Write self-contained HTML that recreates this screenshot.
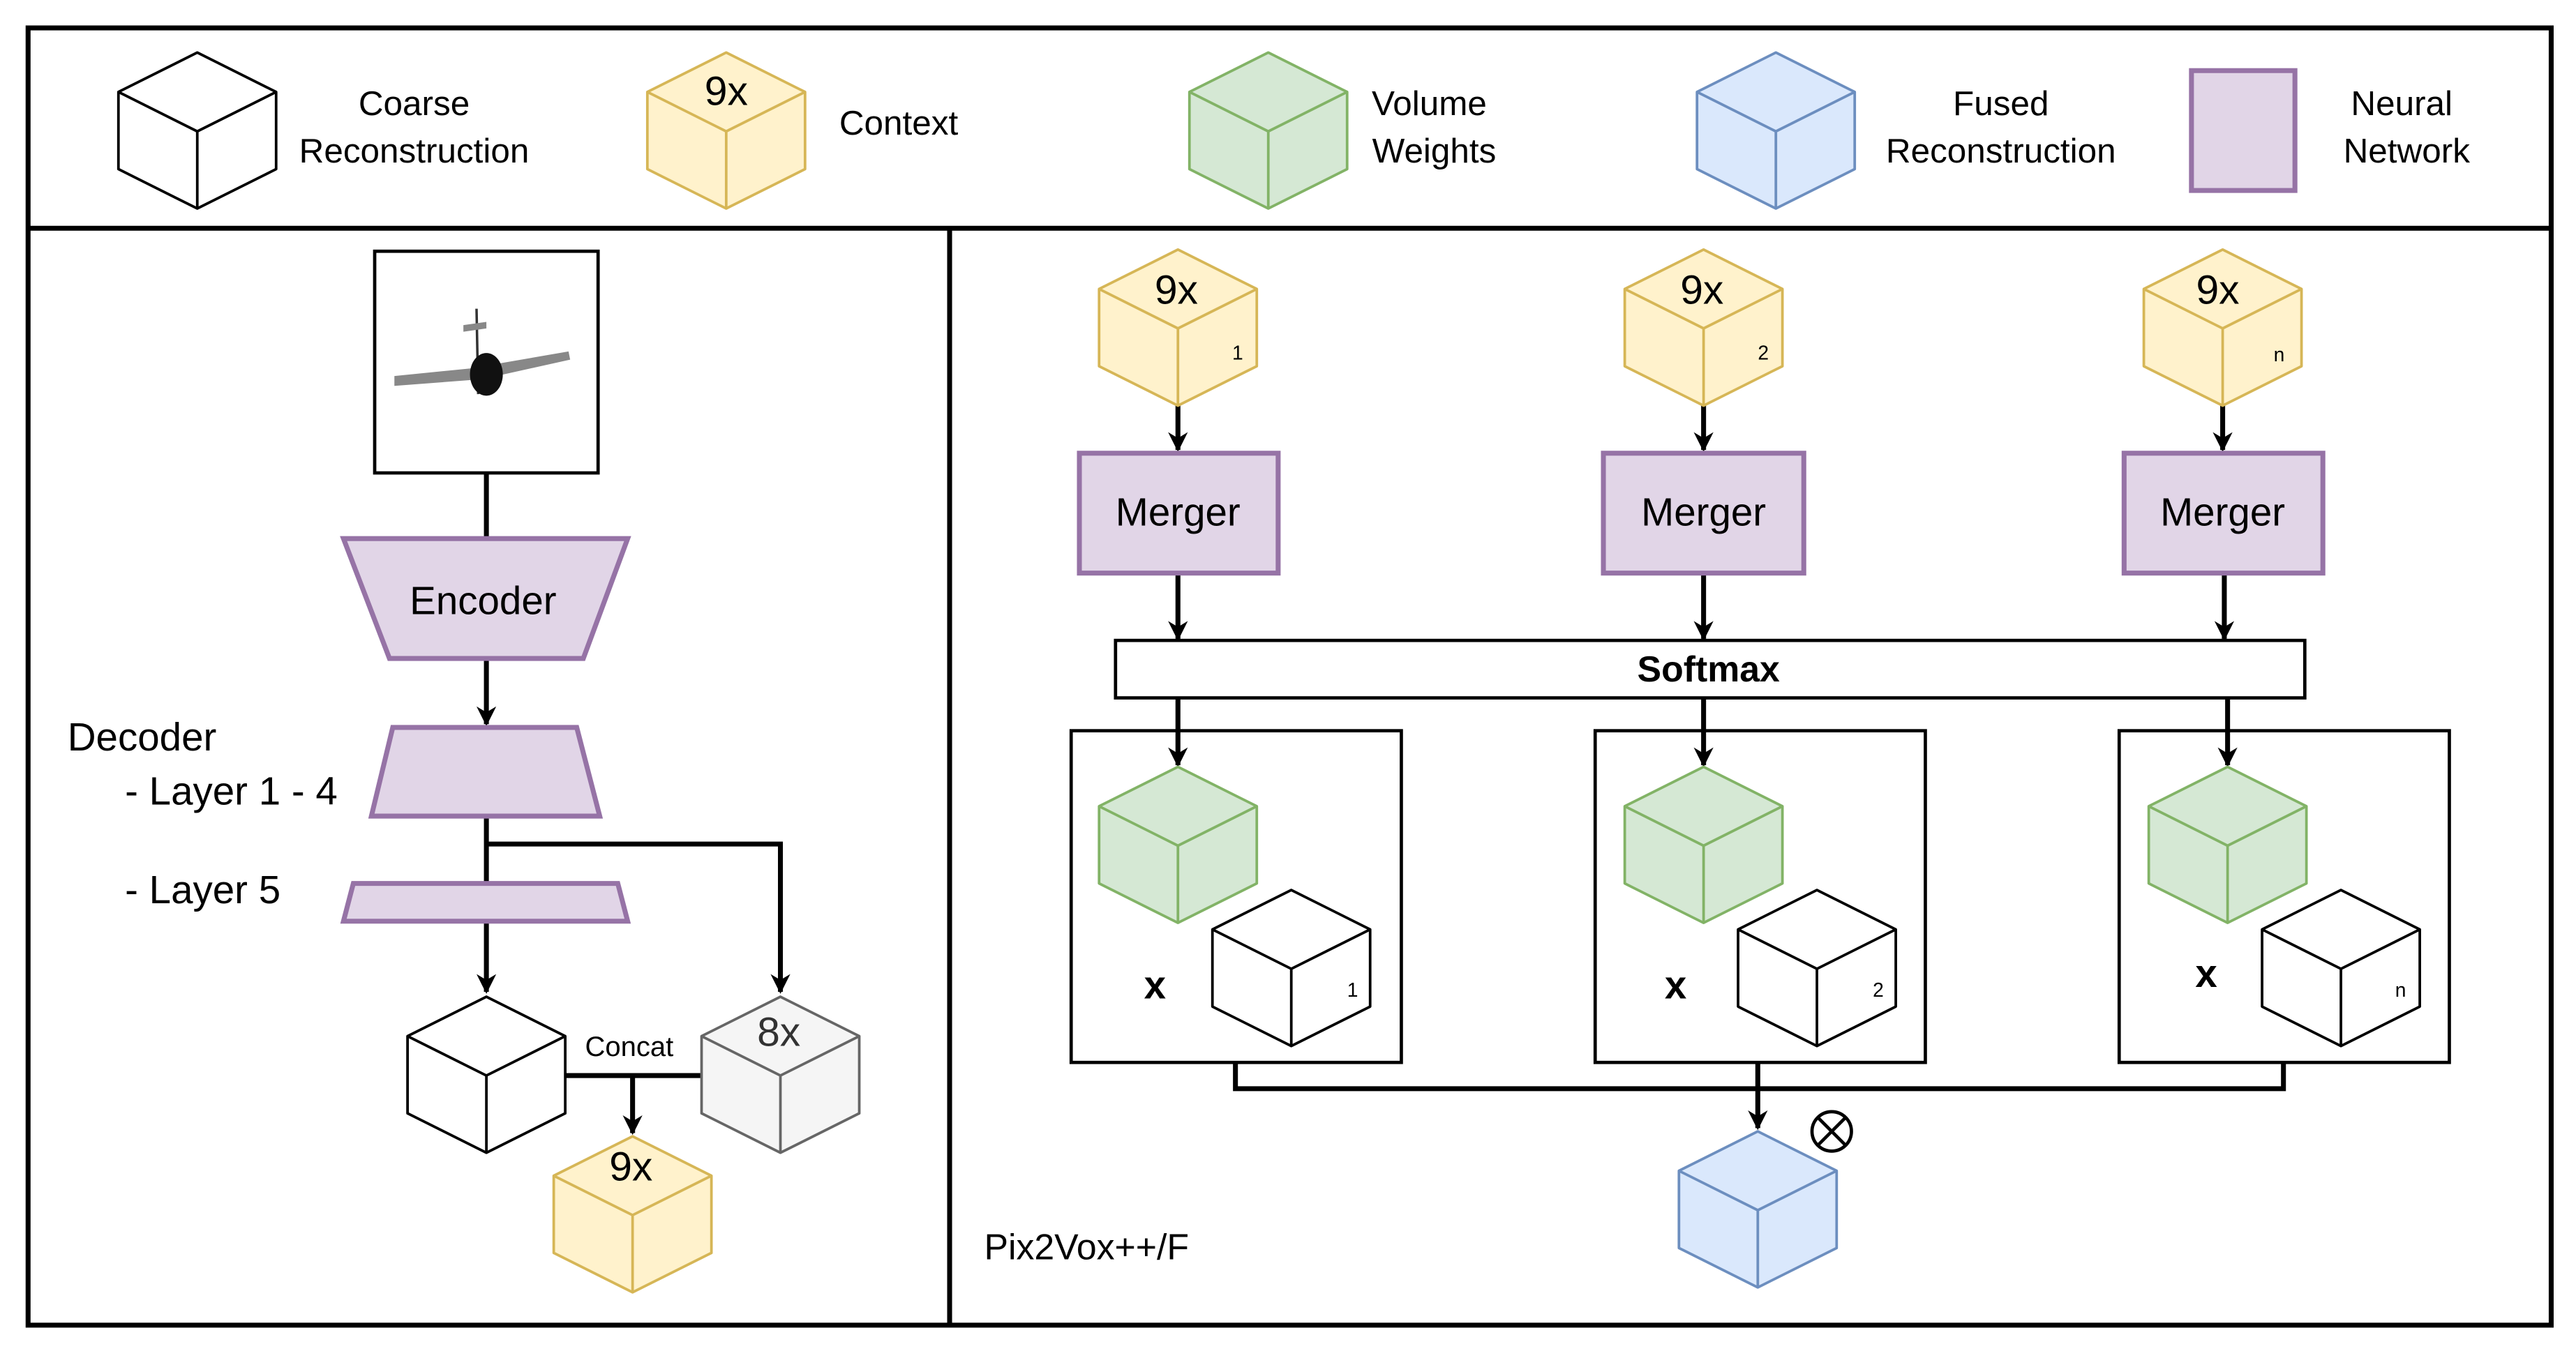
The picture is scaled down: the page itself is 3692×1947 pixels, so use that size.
<!DOCTYPE html>
<html><head><meta charset="utf-8"><style>html,body{margin:0;padding:0;background:#fff}svg{display:block}text{font-family:"Liberation Sans",Arial,sans-serif}</style></head>
<body>
<svg width="3692" height="1947" viewBox="0 0 1568 827" xmlns="http://www.w3.org/2000/svg">
<defs>
<marker id="a" viewBox="0 0 10 10" refX="9" refY="5" markerWidth="4" markerHeight="4" orient="auto" markerUnits="strokeWidth"><path d="M0,0 L10,5 L0,10 L3,5 z" fill="#000"/></marker>
<g id="cube"><path d="M0,0 L48,24 L48,71 L0,95 L-48,71 L-48,24 Z" stroke-linejoin="round"/><path d="M-48,24 L0,48 L48,24 M0,48 L0,95" fill="none"/></g>
</defs>
<rect width="1568" height="827" fill="#fff"/>
<rect x="17" y="17" width="1536" height="790" fill="none" stroke="#000" stroke-width="3"/>
<line x1="17" y1="139" x2="1553" y2="139" stroke="#000" stroke-width="3"/>
<line x1="578" y1="139" x2="578" y2="807" stroke="#000" stroke-width="3"/>

<use href="#cube" x="120" y="32" fill="#fff" stroke="#000" stroke-width="1.6"/>
<use href="#cube" x="442" y="32" fill="#fff2cc" stroke="#d6b656" stroke-width="1.6"/>
<use href="#cube" x="772" y="32" fill="#d5e8d4" stroke="#82b366" stroke-width="1.6"/>
<use href="#cube" x="1081" y="32" fill="#dae8fc" stroke="#6c8ebf" stroke-width="1.6"/>
<rect x="1334" y="43" width="63" height="73" fill="#e1d5e7" stroke="#9673a6" stroke-width="3"/>
<g font-size="21" text-anchor="middle">
<text x="252" y="70">Coarse</text><text x="252" y="99">Reconstruction</text>
<text x="442" y="64" font-size="25">9x</text>
<text x="547" y="82">Context</text>
<text x="870" y="70">Volume</text><text x="873" y="99">Weights</text>
<text x="1218" y="70">Fused</text><text x="1218" y="99">Reconstruction</text>
<text x="1462" y="70">Neural</text><text x="1465" y="99">Network</text>
</g>

<rect x="228" y="153" width="136" height="135" fill="#fff" stroke="#000" stroke-width="2"/>
<g>
<polygon points="240,229 290,224 292,231 240,235" fill="#888"/>
<polygon points="300,222 346,214 347,219 302,229" fill="#888"/>
<line x1="290" y1="188" x2="291" y2="240" stroke="#333" stroke-width="1.5"/>
<polygon points="282,198 296,196 296,200 282,202" fill="#888"/>
<ellipse cx="296" cy="228" rx="10" ry="13" fill="#111"/>
</g>
<g stroke="#000" stroke-width="3" fill="none">
<line x1="296" y1="288" x2="296" y2="328"/>
<line x1="296" y1="401" x2="296" y2="441" marker-end="url(#a)"/>
<line x1="296" y1="497" x2="296" y2="537"/>
<polyline points="296,514 475,514 475,604" marker-end="url(#a)"/>
<line x1="296" y1="561" x2="296" y2="604" marker-end="url(#a)"/>
<line x1="344" y1="655" x2="427" y2="655"/>
<line x1="385" y1="655" x2="385" y2="690" marker-end="url(#a)"/>
</g>
<polygon points="209,328 382,328 355,401 237,401" fill="#e1d5e7" stroke="#9673a6" stroke-width="3"/>
<text x="294" y="374" font-size="24" text-anchor="middle">Encoder</text>
<polygon points="239,443 351,443 365,497 226,497" fill="#e1d5e7" stroke="#9673a6" stroke-width="3"/>
<polygon points="215,538 376,538 382,561 209,561" fill="#e1d5e7" stroke="#9673a6" stroke-width="3"/>
<g font-size="24">
<text x="41" y="457">Decoder</text>
<text x="76" y="490">- Layer 1 - 4</text>
<text x="76" y="550">- Layer 5</text>
</g>
<use href="#cube" x="296" y="607" fill="#fff" stroke="#000" stroke-width="1.6"/>
<use href="#cube" x="475" y="607" fill="#f5f5f5" stroke="#666" stroke-width="1.6"/>
<text x="474" y="637" font-size="25" text-anchor="middle" fill="#333">8x</text>
<text x="383" y="643" font-size="17" text-anchor="middle">Concat</text>
<use href="#cube" x="385" y="692" fill="#fff2cc" stroke="#d6b656" stroke-width="1.6"/>
<text x="384" y="719" font-size="25" text-anchor="middle">9x</text>

<g stroke="#000" stroke-width="3" fill="none">
<line x1="717" y1="247" x2="717" y2="274" marker-end="url(#a)"/>
<line x1="1037" y1="247" x2="1037" y2="274" marker-end="url(#a)"/>
<line x1="1353" y1="247" x2="1353" y2="274" marker-end="url(#a)"/>
<line x1="717" y1="349" x2="717" y2="389" marker-end="url(#a)"/>
<line x1="1037" y1="349" x2="1037" y2="389" marker-end="url(#a)"/>
<line x1="1354" y1="349" x2="1354" y2="389" marker-end="url(#a)"/>
<line x1="717" y1="425" x2="717" y2="466" marker-end="url(#a)"/>
<line x1="1037" y1="425" x2="1037" y2="466" marker-end="url(#a)"/>
<line x1="1356" y1="425" x2="1356" y2="466" marker-end="url(#a)"/>
<polyline points="752,647 752,663 1390,663 1390,647"/>
<line x1="1070" y1="647" x2="1070" y2="687" marker-end="url(#a)"/>
</g>
<g fill="#fff2cc" stroke="#d6b656" stroke-width="1.6">
<use href="#cube" x="717" y="152"/><use href="#cube" x="1037" y="152"/><use href="#cube" x="1353" y="152"/>
</g>
<g font-size="25" text-anchor="middle">
<text x="716" y="185">9x</text><text x="1036" y="185">9x</text><text x="1350" y="185">9x</text>
</g>
<g font-size="12">
<text x="750" y="219">1</text><text x="1070" y="219">2</text><text x="1384" y="220">n</text>
</g>
<g fill="#e1d5e7" stroke="#9673a6" stroke-width="3">
<rect x="657" y="276" width="121" height="73"/>
<rect x="976" y="276" width="122" height="73"/>
<rect x="1293" y="276" width="121" height="73"/>
</g>
<g font-size="24" text-anchor="middle">
<text x="717" y="320">Merger</text><text x="1037" y="320">Merger</text><text x="1353" y="320">Merger</text>
</g>
<rect x="679" y="390" width="724" height="35" fill="#fff" stroke="#000" stroke-width="2"/>
<text x="1040" y="415" font-size="22" font-weight="bold" text-anchor="middle">Softmax</text>
<g fill="none" stroke="#000" stroke-width="2">
<rect x="652" y="445" width="201" height="202"/>
<rect x="971" y="445" width="201" height="202"/>
<rect x="1290" y="445" width="201" height="202"/>
</g>
<g fill="#d5e8d4" stroke="#82b366" stroke-width="1.6">
<use href="#cube" x="717" y="467"/><use href="#cube" x="1037" y="467"/><use href="#cube" x="1356" y="467"/>
</g>
<g fill="#fff" stroke="#000" stroke-width="1.6">
<use href="#cube" x="786" y="542"/><use href="#cube" x="1106" y="542"/><use href="#cube" x="1425" y="542"/>
</g>
<g font-size="24" font-weight="bold" text-anchor="middle">
<text x="703" y="608">x</text><text x="1020" y="608">x</text><text x="1343" y="601">x</text>
</g>
<g font-size="12">
<text x="820" y="607">1</text><text x="1140" y="607">2</text><text x="1458" y="607">n</text>
</g>
<use href="#cube" x="1070" y="689" fill="#dae8fc" stroke="#6c8ebf" stroke-width="1.6"/>
<g stroke="#000" stroke-width="2" fill="none">
<circle cx="1115" cy="689" r="12"/>
<line x1="1106.5" y1="680.5" x2="1123.5" y2="697.5"/>
<line x1="1123.5" y1="680.5" x2="1106.5" y2="697.5"/>
</g>
<text x="599" y="767" font-size="22">Pix2Vox++/F</text>
</svg>
</body></html>
